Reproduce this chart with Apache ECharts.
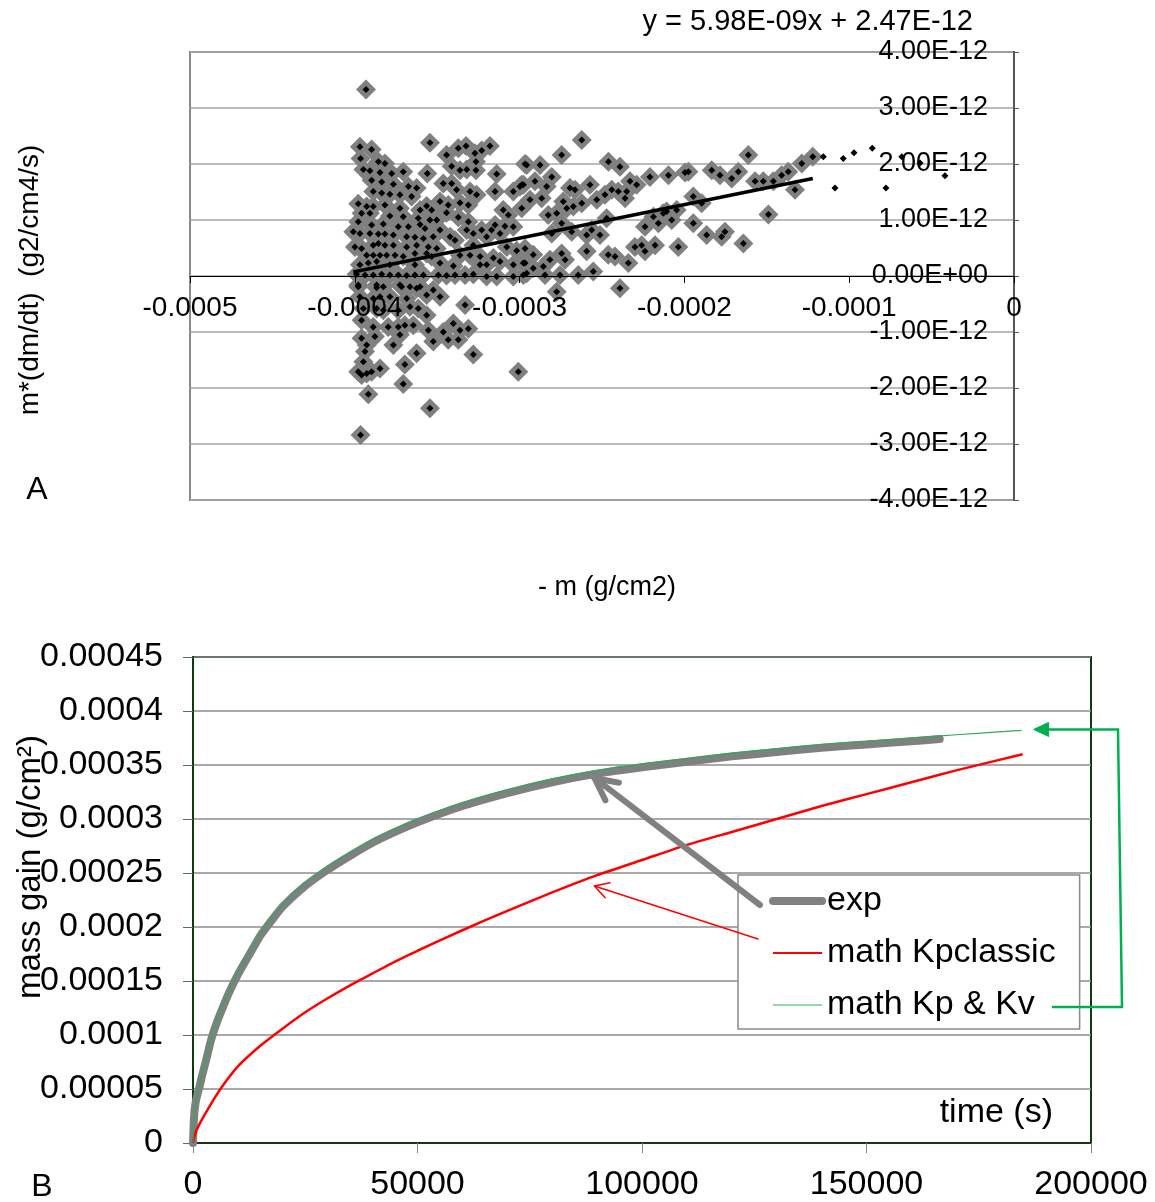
<!DOCTYPE html>
<html>
<head>
<meta charset="utf-8">
<script src="https://cdn.jsdelivr.net/npm/echarts@6/dist/echarts.min.js"></script>
<style>
  html, body { margin: 0; padding: 0; background: #fff; }
  #chart { width: 1155px; height: 1202px; }
</style>
</head>
<body>
<div id="chart"></div>
<script>
// ---------- Panel A: m*(dm/dt) versus -m ----------
// points as [-m in µg/cm², m*(dm/dt) in 1e-12 g²/cm⁴/s]
const fitPoints = [
  [-393.2,3.33],
  [-396.9,2.31],[-389.8,2.26],[-354.4,2.38],[-344.3,2.16],[-337.2,2.28],[-332.5,2.32],[-327.1,2.19],[-323.0,2.24],[-318.0,2.32],
  [-396.5,2.10],[-385.7,2.04],[-381.7,2.01],[-296.7,2.00],
  [-394.8,1.90],[-390.8,1.88],[-384.7,1.85],[-377.6,1.83],[-370.6,1.86],[-356.0,1.83],[-341.2,1.96],[-336.2,1.89],[-332.1,1.90],[-326.5,2.04],[-326.5,1.89],[-313.9,1.82],[-298.7,1.63],
  [-389.8,1.71],[-383.7,1.68],[-376.6,1.64],[-367.5,1.60],[-362.5,1.57],[-346.3,1.65],[-341.2,1.65],[-338.2,1.54],[-330.1,1.51],[-326.1,1.45],[-314.9,1.51],[-303.8,1.51],[-299.8,1.60],
  [-388.8,1.51],[-383.7,1.48],[-378.7,1.46],[-372.6,1.45],[-365.5,1.42],[-356.4,1.25],[-348.3,1.33],[-343.3,1.27],[-336.2,1.31],[-331.1,1.27],
  [-397.9,1.29],[-392.8,1.24],[-388.8,1.24],[-381.7,1.27],[-372.6,1.21],[-360.4,1.18],[-353.4,1.18],[-344.3,1.13],[-337.2,1.05],[-309.9,1.18],[-306.8,1.09],[-298.7,1.21],
  [-395.9,1.12],[-390.8,1.12],[-378.7,1.07],[-370.6,1.06],[-361.5,1.03],[-354.4,1.00],[-350.3,1.00],[-331.1,0.97],
  [-397.9,0.97],[-389.8,0.91],[-382.7,0.93],[-373.6,0.88],[-367.5,0.88],[-360.4,0.92],[-357.4,0.85],[-348.3,0.82],[-332.1,0.82],[-323.0,0.82],[-317.0,0.82],[-314.9,0.91],[-308.9,0.89],[-303.8,0.88],
  [-400.9,0.79],[-396.9,0.76],[-390.8,0.76],[-385.7,0.75],[-381.7,0.75],[-376.6,0.73],[-368.5,0.70],[-363.5,0.69],[-358.4,0.67],[-352.4,0.70],[-342.2,0.70],[-339.2,0.64],[-328.1,0.76],[-320.0,0.70],[-311.9,0.76],
  [-399.9,0.52],[-395.9,0.49],[-388.8,0.55],[-385.7,0.58],[-381.7,0.55],[-376.6,0.55],[-368.5,0.52],[-362.5,0.55],[-355.4,0.52],[-350.3,0.49],[-328.1,0.55],[-307.8,0.52],[-301.8,0.45],[-296.7,0.49],
  [-392.8,0.37],[-388.8,0.37],[-384.7,0.37],[-380.7,0.37],[-375.6,0.37],[-370.6,0.35],[-363.5,0.40],[-356.4,0.40],[-353.4,0.35],[-336.2,0.37],[-330.1,0.37],[-324.0,0.35],[-315.9,0.32],
  [-396.9,0.20],[-391.8,0.23],[-386.7,0.26],[-378.7,0.20],[-363.5,0.20],[-348.3,0.23],[-340.2,0.18],[-324.0,0.20],[-320.0,0.20],[-311.9,0.26],[-303.8,0.20],[-297.7,0.23],
  [-398.9,0.03],[-393.8,0.02],[-388.8,0.02],[-383.7,0.03],[-378.7,0.02],[-373.6,0.02],[-368.5,0.01],[-363.5,0.02],[-358.4,0.02],[-349.3,0.02],[-344.3,0.01],[-339.2,0.02],[-333.1,0.02],[-328.1,0.03],[-320.0,-0.01],[-313.9,-0.01],[-303.8,-0.01],[-295.7,0.05],
  [-397.9,-0.16],[-386.7,-0.16],[-382.7,-0.19],[-372.6,-0.16],[-366.5,-0.19],[-360.4,-0.19],
  [-397.9,-0.19],[-386.7,-0.21],[-371.6,-0.19],[-362.5,-0.22],[-356.4,-0.34],[-352.4,-0.25],[-348.3,-0.37],
  [-396.9,-0.37],[-388.8,-0.40],[-384.7,-0.37],[-378.7,-0.37],[-368.5,-0.40],
  [-333.1,-0.52],
  [-394.8,-0.58],[-386.7,-0.58],[-382.7,-0.61],[-373.6,-0.61],[-366.5,-0.55],[-361.5,-0.58],[-356.4,-0.70],
  [-395.9,-0.79],[-388.8,-0.91],[-379.7,-0.91],[-373.6,-0.91],[-369.6,-0.88],[-364.5,-0.88],[-355.4,-0.97],[-346.3,-1.00],[-340.2,-0.85],[-336.2,-0.97],[-331.1,-0.94],
  [-395.9,-1.11],[-387.8,-1.08],[-376.6,-1.23],[-372.6,-1.05],[-362.5,-1.38],[-352.4,-1.17],[-343.3,-1.14],[-337.2,-1.14],
  [-392.8,-1.23],[-393.8,-1.35],[-328.1,-1.40],[-369.6,-1.58],
  [-394.8,-1.53],[-397.9,-1.71],[-392.8,-1.74],[-389.8,-1.71],[-384.7,-1.65],[-395.9,-1.77],
  [-300.8,-1.71],[-391.8,-2.11],[-370.6,-1.93],[-354.4,-2.36],[-396.5,-2.84],
  [-262.3,2.43],[-274.5,2.16],[-295.7,1.98],[-287.6,1.98],[-246.1,2.04],[-239.1,1.95],
  [-280.5,1.77],[-290.7,1.69],[-297.7,1.63],[-283.6,1.60],[-293.7,1.36],[-286.6,1.39],
  [-269.4,1.57],[-266.4,1.54],[-257.3,1.63],[-244.1,1.54],[-240.1,1.51],[-233.0,1.69],[-229.0,1.63],[-235.0,1.51],[-236.0,1.39],
  [-220.9,1.77],[-209.7,1.80],[-199.6,1.85],[-197.6,1.86],[-183.4,1.89],[-178.4,1.80],[-171.3,1.74],[-167.3,1.86],[-161.2,2.16],
  [-157.1,1.69],[-152.1,1.69],[-146.0,1.69],[-141.0,1.80],[-137.0,1.86],[-128.8,2.01],[-122.1,2.13],[-132.9,1.54],[-149.0,1.10],
  [-273.5,1.33],[-267.4,1.24],[-262.3,1.30],[-253.2,1.36],[-248.2,1.45],[-247.2,1.03],
  [-282.6,1.09],[-277.5,1.12],[-271.4,1.21],[-274.5,0.94],[-268.4,0.79],[-280.5,0.76],
  [-256.3,0.82],[-251.2,0.73],[-259.3,0.73],
  [-194.6,1.42],[-189.5,1.30],[-204.7,1.18],[-210.8,1.15],[-212.8,1.12],[-218.8,1.06],[-207.7,1.00],[-215.8,0.94],[-223.9,0.88],[-194.6,0.94],
  [-186.5,0.73],[-177.4,0.70],[-175.4,0.79],[-164.2,0.58],
  [-230.0,0.52],[-225.9,0.55],[-223.9,0.44],[-217.8,0.55],[-203.7,0.52],
  [-246.2,0.38],[-242.1,0.35],[-259.3,0.44],[-234.0,0.23],[-255.3,0.08],
  [-274.5,0.40],[-272.4,0.29],[-281.6,0.29],[-291.7,0.38],
  [-285.6,0.17],[-291.7,0.14],[-296.7,0.23],[-297.7,0.02],[-284.6,0.02],[-275.5,0.02],[-264.4,0.02],
  [-277.5,-0.28],[-239.1,-0.22]
];
// later points, plotted as small dots only
const tailPoints = [
  [-115.7,2.13],[-103.6,2.10],[-97.1,2.20],[-86.0,2.28],[-68.1,2.13],[-57.0,2.02],[-41.9,1.79],[-108.6,1.57],[-77.7,1.57]
];
// linear trend line coefficients (y = slope*x + intercept)
const trendSlope = 5.98e-9;
const trendIntercept = 2.47e-12;
const xTicksA = { min: -0.0005, max: 0, interval: 0.0001 };
const yTicksA = { min: -4e-12, max: 4e-12, interval: 1e-12 };

// ---------- Panel B: mass gain versus time ----------
// time in s, mass gain in 1e-4 g/cm²
const expTime  = [0, 250, 600, 1000, 1500, 2000, 3000, 4000, 5000, 6000, 8000, 10000, 12500, 15000, 17500, 20000, 25000, 30000, 35000, 40000, 45000, 50000, 60000, 70000, 80000, 90000, 100000, 110000, 120000, 130000, 140000, 150000, 160000, 166300];
const expMass  = [0, 0.25, 0.38, 0.45, 0.53, 0.62, 0.78, 0.95, 1.08, 1.19, 1.39, 1.56, 1.74, 1.92, 2.06, 2.19, 2.38, 2.53, 2.66, 2.78, 2.88, 2.97, 3.12, 3.24, 3.34, 3.42, 3.48, 3.53, 3.58, 3.62, 3.66, 3.69, 3.72, 3.74];
const kpTime   = [0, 200, 600, 1500, 3000, 5000, 7500, 10000, 15000, 20000, 25000, 30000, 35000, 40000, 45000, 50000, 60000, 70000, 80000, 90000, 100000, 110000, 120000, 130000, 140000, 150000, 160000, 170000, 184770];
const kpMass   = [0, 0.05, 0.10, 0.18, 0.29, 0.43, 0.58, 0.71, 0.90, 1.06, 1.21, 1.34, 1.46, 1.57, 1.68, 1.78, 1.97, 2.15, 2.32, 2.48, 2.62, 2.76, 2.88, 3.00, 3.12, 3.23, 3.34, 3.45, 3.60];
const kpkvTime = [0, 250, 600, 1000, 1500, 2000, 3000, 4000, 5000, 6000, 8000, 10000, 12500, 15000, 17500, 20000, 25000, 30000, 35000, 40000, 45000, 50000, 60000, 70000, 80000, 90000, 100000, 110000, 120000, 130000, 140000, 150000, 160000, 170000, 184550];
const kpkvMass = [0, 0.26, 0.39, 0.47, 0.55, 0.64, 0.80, 0.97, 1.10, 1.21, 1.41, 1.58, 1.76, 1.94, 2.08, 2.21, 2.41, 2.56, 2.69, 2.81, 2.91, 3.00, 3.15, 3.27, 3.37, 3.45, 3.51, 3.56, 3.61, 3.65, 3.69, 3.72, 3.75, 3.78, 3.82];
// arrow tips pointing at the curves [time, mass gain in 1e-4 g/cm²]
const expArrowTip = [89400, 3.38];
const kpArrowTip  = [89400, 2.38];

const seriesNames = ['exp', 'math Kpclassic', 'math Kp & Kv'];

const X_UNIT = 1e-6, Y_UNIT = 1e-12, MASS_UNIT = 1e-4;
const FONT = '"Liberation Sans", Arial, sans-serif';

const fitData = fitPoints.map(p => [p[0] * X_UNIT, p[1] * Y_UNIT]);
const allDots = fitData.concat(tailPoints.map(p => [p[0] * X_UNIT, p[1] * Y_UNIT]));
const fitXs = fitData.map(p => p[0]);
const trendX0 = Math.min(...fitXs), trendX1 = Math.max(...fitXs);
const trendData = [[trendX0, trendSlope * trendX0 + trendIntercept], [trendX1, trendSlope * trendX1 + trendIntercept]];

const pairs = (ts, ms) => ts.map((t, i) => [t, ms[i] * MASS_UNIT]);

function sci(v) {
  if (Math.abs(v) < 1e-20) return '0.00E+00';
  const parts = v.toExponential(2).split('e');
  const sign = parts[1][0];
  const digits = parts[1].slice(1).padStart(2, '0');
  return parts[0] + 'E' + sign + digits;
}

// panel A geometry: x axis drawn where y = 0
const gridA = { left: 190, top: 52, width: 824, height: 448 };
const zeroOffsetA = -gridA.height * (0 - yTicksA.min) / (yTicksA.max - yTicksA.min);

const chart = echarts.init(document.getElementById('chart'), null, { renderer: 'canvas' });

const option = {
  animation: false,
  backgroundColor: '#fff',
  textStyle: { fontFamily: FONT },
  grid: [
    { left: gridA.left, top: gridA.top, width: gridA.width, height: gridA.height, show: true,
      borderColor: '#8a8a8a', borderWidth: 2, backgroundColor: 'transparent', containLabel: false, outerBoundsMode: 'none' },
    { left: 193, top: 657, width: 898, height: 486, show: true,
      borderColor: '#0e3b0e', borderWidth: 2, backgroundColor: 'transparent', containLabel: false, outerBoundsMode: 'none' }
  ],
  xAxis: [
    {
      type: 'value', gridIndex: 0, position: 'bottom', offset: zeroOffsetA,
      min: xTicksA.min, max: xTicksA.max, interval: xTicksA.interval, z: 3,
      axisLine: { onZero: false, lineStyle: { color: '#000', width: 1.2 } },
      axisTick: { show: true, length: 7, lineStyle: { color: '#000' } },
      splitLine: { show: false },
      axisLabel: { fontSize: 28, color: '#000', margin: 18, fontFamily: FONT,
        formatter: v => String(Math.round(v * 1e5) / 1e5) }
    },
    {
      type: 'value', gridIndex: 1, min: 0, max: 200000, interval: 50000,
      axisLine: { lineStyle: { color: '#0e3b0e', width: 2 } },
      axisTick: { show: true, length: 10, lineStyle: { color: '#888' } },
      splitLine: { show: false },
      axisLabel: { fontSize: 34, color: '#000', margin: 25, fontFamily: FONT, formatter: v => String(v) }
    }
  ],
  yAxis: [
    {
      type: 'value', gridIndex: 0, position: 'right', min: yTicksA.min, max: yTicksA.max, interval: yTicksA.interval,
      axisLine: { show: true, onZero: false, lineStyle: { color: '#555', width: 2 } },
      axisTick: { show: true, length: 5, lineStyle: { color: '#555' } },
      splitLine: { show: true, lineStyle: { color: '#a6a6a6', width: 1.5 } },
      axisLabel: { inside: true, fontSize: 27, color: '#000', margin: 26, fontFamily: FONT, formatter: sci }
    },
    {
      type: 'value', gridIndex: 1, min: 0, max: 0.00045, interval: 0.00005,
      axisLine: { show: true, lineStyle: { color: '#0e3b0e', width: 2 } },
      axisTick: { show: true, length: 10, lineStyle: { color: '#666' } },
      splitLine: { show: true, lineStyle: { color: '#8c8c8c', width: 1.5 } },
      axisLabel: { fontSize: 34, color: '#000', margin: 30, fontFamily: FONT,
        formatter: v => String(Math.round(v * 1e6) / 1e6) }
    }
  ],
  legend: {
    left: 738, top: 875, orient: 'vertical',
    backgroundColor: '#fff', borderColor: '#8a8a8a', borderWidth: 1.5,
    padding: [9, 24, 7, 31],
    itemWidth: 49, itemHeight: 14, itemGap: 18, itemTextGap: 4,
    textStyle: { fontSize: 34, color: '#000', fontFamily: FONT },
    itemStyle: { opacity: 0 },
    data: [
      { name: seriesNames[0], lineStyle: { width: 8, cap: 'round' }, itemStyle: { opacity: 0 } },
      { name: seriesNames[1], lineStyle: { width: 2 }, itemStyle: { opacity: 0 } },
      { name: seriesNames[2], lineStyle: { width: 1 }, itemStyle: { opacity: 0 } }
    ]
  },
  series: [
    {
      type: 'scatter', xAxisIndex: 0, yAxisIndex: 0, data: fitData, symbol: 'diamond', symbolSize: 20,
      itemStyle: { color: '#808080', opacity: 1 }, silent: true, z: 2
    },
    {
      type: 'scatter', xAxisIndex: 0, yAxisIndex: 0, data: allDots, symbol: 'diamond', symbolSize: 7,
      itemStyle: { color: '#000', opacity: 1 }, silent: true, z: 4
    },
    {
      type: 'line', xAxisIndex: 0, yAxisIndex: 0, data: trendData, symbol: 'none',
      lineStyle: { color: '#000', width: 3.5 }, silent: true, z: 5
    },
    {
      name: seriesNames[0], type: 'line', xAxisIndex: 1, yAxisIndex: 1, data: pairs(expTime, expMass),
      symbol: 'none', smooth: 0.2, color: '#808080',
      lineStyle: { color: '#808080', width: 8, cap: 'round', join: 'round' }, z: 3
    },
    {
      name: seriesNames[1], type: 'line', xAxisIndex: 1, yAxisIndex: 1, data: pairs(kpTime, kpMass),
      symbol: 'none', smooth: 0.2, color: '#ff0000',
      lineStyle: { color: '#ff0000', width: 2.5 }, z: 3
    },
    {
      name: seriesNames[2], type: 'line', xAxisIndex: 1, yAxisIndex: 1, data: pairs(kpkvTime, kpkvMass),
      symbol: 'none', smooth: 0.2, color: '#2eaa5c',
      lineStyle: { color: '#2eaa5c', width: 1.2 }, z: 4
    }
  ]
};

chart.setOption(option);

// ---------- annotations (texts and arrows) ----------
function txt(text, x, y, size, align, rotation) {
  return {
    type: 'text', x: x, y: y, rotation: rotation || 0, z: 100,
    style: {
      text: text, font: size + 'px ' + FONT, fill: '#000',
      textAlign: align || 'center', textVerticalAlign: 'middle',
      align: align || 'center', verticalAlign: 'middle'
    }
  };
}

function openArrow(from, tip, color, width, headLen, headAngle) {
  const ang = Math.atan2(from[1] - tip[1], from[0] - tip[0]);
  const h1 = [tip[0] + headLen * Math.cos(ang + headAngle), tip[1] + headLen * Math.sin(ang + headAngle)];
  const h2 = [tip[0] + headLen * Math.cos(ang - headAngle), tip[1] + headLen * Math.sin(ang - headAngle)];
  const st = { stroke: color, lineWidth: width, fill: null, lineCap: 'round', lineJoin: 'round' };
  return [
    { type: 'polyline', z: 100, shape: { points: [from, tip] }, style: st },
    { type: 'polyline', z: 100, shape: { points: [h1, tip, h2] }, style: st }
  ];
}

const toPxB = p => chart.convertToPixel({ gridIndex: 1 }, [p[0], p[1] * MASS_UNIT]);
const expTipPx = toPxB(expArrowTip);
const kpTipPx = toPxB(kpArrowTip);
const kvEndPx = toPxB([kpkvTime[kpkvTime.length - 1], kpkvMass[kpkvMass.length - 1]]);
const greenTip = [kvEndPx[0] + 12, kvEndPx[1] - 1];
const green = '#00b050';

const graphics = [
  txt('y = ' + sci(trendSlope) + 'x + ' + sci(trendIntercept), 973, 22, 29, 'right'),
  txt('A', 37, 490, 32),
  txt('- m (g/cm2)', 607, 588, 27),
  txt('m*(dm/dt)  (g2/cm4/s)', 30, 280, 28, 'center', Math.PI / 2),
  txt('mass gain (g/cm²)', 31, 867, 33, 'center', Math.PI / 2),
  txt('time (s)', 1053, 1113, 34, 'right'),
  txt('B', 42, 1187, 32)
]
  .concat(openArrow([760, 905], expTipPx, '#808080', 6, 25, 0.46))
  .concat(openArrow([758, 939], kpTipPx, '#ff0000', 1.5, 16, 0.52))
  .concat([
    { type: 'polyline', z: 100,
      shape: { points: [[1052, 1007], [1122, 1007], [1118, greenTip[1]], [greenTip[0] + 12, greenTip[1]]] },
      style: { stroke: green, lineWidth: 2.5, fill: null } },
    { type: 'polygon', z: 100,
      shape: { points: [greenTip, [greenTip[0] + 15, greenTip[1] - 7], [greenTip[0] + 15, greenTip[1] + 7]] },
      style: { fill: green, stroke: green, lineWidth: 1 } }
  ]);

chart.setOption({ graphic: graphics });
</script>
</body>
</html>
